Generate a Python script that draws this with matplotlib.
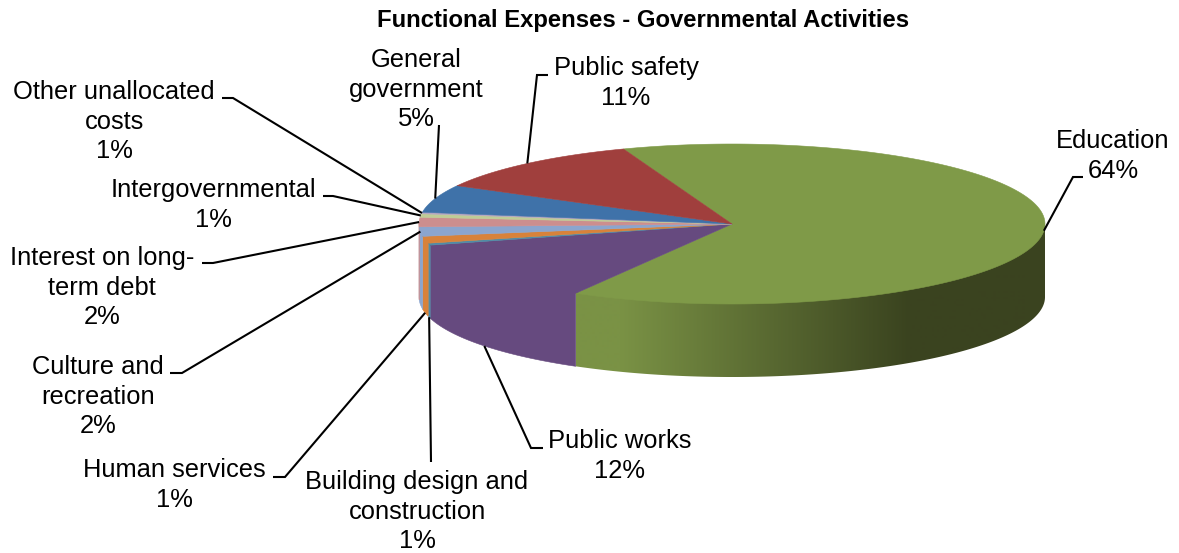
import numpy as np
import matplotlib
matplotlib.use("Agg")
import matplotlib.pyplot as plt
from matplotlib.patches import Polygon

plt.rcParams['font.family'] = ['Liberation Sans', 'DejaVu Sans']

title = "Functional Expenses - Governmental Activities"
names = ["Education", "Public works", "Building design and\nconstruction", "Human services",
         "Culture and\nrecreation", "Interest on long-\nterm debt", "Intergovernmental",
         "Other unallocated\ncosts", "General\ngovernment", "Public safety"]
# shares, the labels show them rounded
shares = [63.9, 12.4, 0.4, 1.4, 1.9, 1.9, 0.7, 0.3, 5.6, 11.4]
pct_labels = ["64%", "12%", "1%", "1%", "2%", "2%", "1%", "1%", "5%", "11%"]
top_colors = ["#7F9A48", "#664A7F", "#4F8CA6", "#D8823A", "#8BA5CE",
              "#CC8E8E", "#BFCC96", "#B5A5C0", "#3F72A9", "#A03F3D"]

# layout of the fake 3d pie, in pixels
cx, cy, rx, ry, depth = 732, 224, 313, 80, 73
start_angle = 110.3

# label anchor (centre x, top of first line), and the leader bend points after the rim
label_pos = [(1113, 129), (620, 429), (417, 470), (174, 458), (98, 355),
             (102, 246), (213, 178), (114, 80), (416, 48), (626, 56)]
leader_bends = [[(1073, 177), (1083, 177)], [(531, 448), (543, 448)], [(431, 462)],
                [(285, 477), (273, 477)], [(182, 373), (170, 373)], [(213, 263), (202, 263)],
                [(333, 196), (323, 196)], [(233, 98), (222, 98)], [(439, 125)],
                [(537, 75), (548, 75)]]
leader_on_side = [False, True, True, True, False, False, False, False, False, False]


def rim(deg):
    a = np.radians(deg)
    return cx + rx * np.cos(a), cy - ry * np.sin(a)


def wall_points(lo, hi):
    # top rim is pulled up a bit under the top face so no seam shows
    angs = np.linspace(lo, hi, 3 + int((hi - lo) * 2))
    xs, ys = rim(angs)
    return list(zip(xs, ys - 1.5)) + list(zip(xs[::-1], ys[::-1] + depth))


fig = plt.figure(figsize=(11.79, 5.53), dpi=100)
ax = fig.add_axes([0, 0, 1, 1])

sweeps = np.array(shares) / sum(shares) * 360
ends = start_angle - np.cumsum(sweeps)
starts = ends + sweeps

# side wall of the education slice: gradient clipped to the wall, it darkens to the right
edge_x = np.arange(cx - rx, cx + rx + 1)
t = np.clip((edge_x - 620) / 290, 0, 1)
c0 = np.array([0x7A, 0x92, 0x45]) / 255
c1 = np.array([0x3A, 0x43, 0x1F]) / 255
shade = (c0 + (c1 - c0) * t[:, None])[None, :, :]
wall = Polygon(wall_points(ends[0] % 360, 360), closed=True, fc="none", ec="none")
ax.add_patch(wall)
img = ax.imshow(shade, extent=[edge_x[0], edge_x[-1], 553, 0], aspect="auto", zorder=2)
img.set_clip_path(wall)

# other walls, anything behind the pie is left out
for i in range(1, len(shares)):
    hi = starts[i] % 360
    lo = max(ends[i] % 360, 180)
    if hi > 180:
        ax.add_patch(Polygon(wall_points(lo, hi), closed=True, fc=top_colors[i],
                             ec=top_colors[i], lw=0.4, zorder=2))

# top face
for i in range(len(shares)):
    angs = np.linspace(starts[i], ends[i], 3 + int(sweeps[i] * 2))
    xs, ys = rim(angs)
    pts = [(cx, cy)] + list(zip(xs, ys))
    ax.add_patch(Polygon(pts, closed=True, fc=top_colors[i], ec=top_colors[i], lw=0.4, zorder=3))

# leaders and labels
for i in range(len(names)):
    x0, y0 = rim((starts[i] + ends[i]) / 2)
    if leader_on_side[i]:
        y0 += depth
    path = [(x0, y0)] + leader_bends[i]
    ax.plot([p[0] for p in path], [p[1] for p in path], color="black", lw=1.5, zorder=4,
            solid_joinstyle="miter", solid_capstyle="butt")
    ax.text(label_pos[i][0], label_pos[i][1], names[i] + "\n" + pct_labels[i], ha="center", va="top",
            fontsize=18.4, color="black", linespacing=1.29, zorder=5)

ax.text(643.5, 21, title, ha="center", va="center", fontsize=17.2, fontweight="bold", color="black")

ax.set_xlim(0, 1179)
ax.set_ylim(553, 0)
ax.axis("off")

fig.savefig("out.png", dpi=100)
